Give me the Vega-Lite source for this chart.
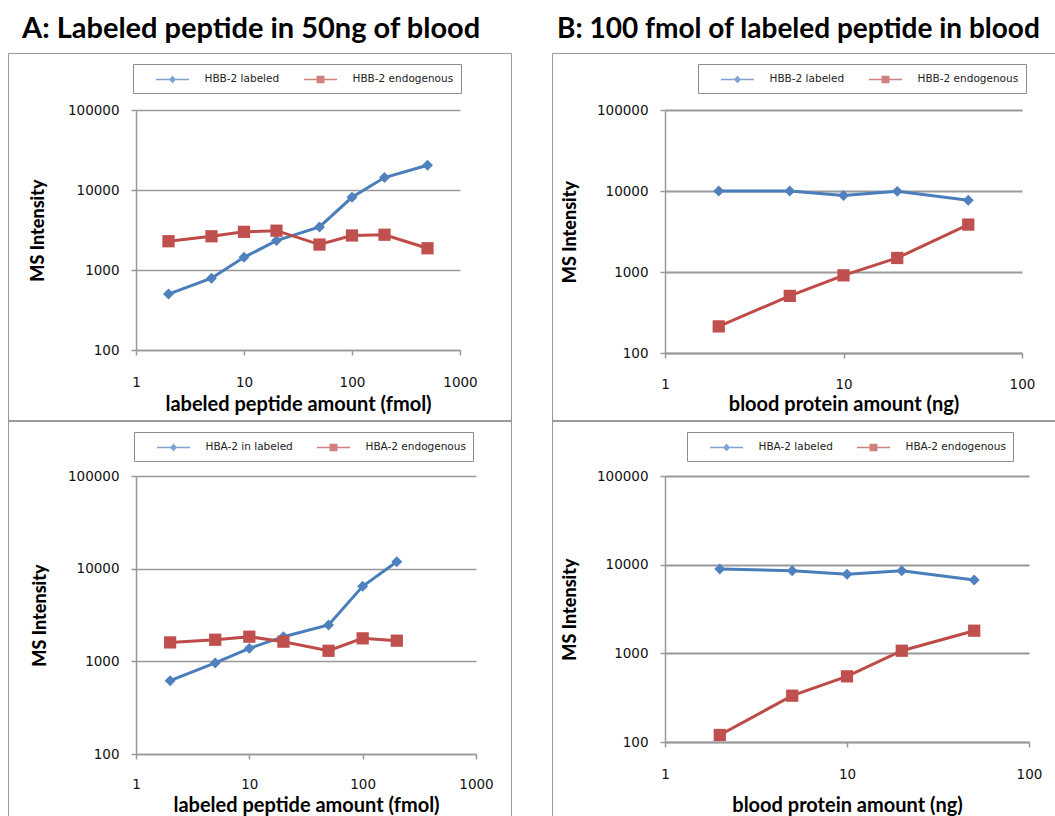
{
  "$schema": "https://vega.github.io/schema/vega-lite/v6.json",
  "autosize": {"type": "none"},
  "padding": {"left": 136, "top": 110, "right": 919, "bottom": 706},
  "background": "white",
  "config": {
    "view": {"stroke": null},
    "font": "DejaVu Sans",
    "axis": {
      "labelFont": "DejaVu Sans", "labelFontSize": 13.5, "labelColor": "#111",
      "titleFont": "Lato", "titleFontWeight": "bold", "titleColor": "#000",
      "domainColor": "#999", "domainWidth": 1.5, "tickColor": "#999", "tickWidth": 1.5, "tickSize": 5,
      "gridColor": "#999", "gridWidth": 1.5, "labelFlush": false, "labelOverlap": false
    },
    "axisY": {"titleFontWeight": 900},
    "legend": {
      "orient": "none", "direction": "horizontal",
      "symbolSize": 196, "symbolStrokeWidth": 1.5, "symbolOffset": 9.5, "labelOffset": 24,
      "labelFont": "DejaVu Sans", "labelFontSize": 10.5, "labelColor": "#222",
      "strokeColor": "#8c8c8c", "padding": 7, "columnPadding": 20,
      "titleOrient": "left", "titlePadding": 15, "titleFontSize": 11
    },
    "title": {"font": "Lato", "fontSize": 29, "fontWeight": "bold", "color": "#000", "anchor": "start", "frame": "group"}
  },
  "columns": 2,
  "spacing": {"row": 123, "column": 189},
  "bounds": "flush",
  "resolve": {"scale": {"color": "independent", "shape": "independent", "strokeDash": "independent"}},
  "concat": [
    {
      "width": 324, "height": 240,
      "title": {"text": "A: Labeled peptide in 50ng of blood", "dx": -114, "offset": 9},
      "data": {"values": [
        {"series": "HBB-2 labeled", "x": 2, "y": 500}, {"series": "HBB-2 labeled", "x": 5, "y": 790},
        {"series": "HBB-2 labeled", "x": 10, "y": 1440}, {"series": "HBB-2 labeled", "x": 20, "y": 2330},
        {"series": "HBB-2 labeled", "x": 50, "y": 3450}, {"series": "HBB-2 labeled", "x": 100, "y": 8100},
        {"series": "HBB-2 labeled", "x": 200, "y": 14300}, {"series": "HBB-2 labeled", "x": 500, "y": 20400},
        {"series": "HBB-2 endogenous", "x": 2, "y": 2290}, {"series": "HBB-2 endogenous", "x": 5, "y": 2640},
        {"series": "HBB-2 endogenous", "x": 10, "y": 3000}, {"series": "HBB-2 endogenous", "x": 20, "y": 3100},
        {"series": "HBB-2 endogenous", "x": 50, "y": 2080}, {"series": "HBB-2 endogenous", "x": 100, "y": 2700},
        {"series": "HBB-2 endogenous", "x": 200, "y": 2760}, {"series": "HBB-2 endogenous", "x": 500, "y": 1870}
      ]},
      "encoding": {
        "x": {"field": "x", "type": "quantitative", "scale": {"type": "log", "domain": [1, 1000], "nice": false},
              "axis": {"values": [1, 10, 100, 1000], "format": "d", "title": "labeled peptide amount (fmol)", "grid": false, "labelPadding": 20, "titlePadding": 6, "titleFontSize": 20}},
        "y": {"field": "y", "type": "quantitative", "scale": {"type": "log", "domain": [100, 100000], "nice": false},
              "axis": {"values": [100, 1000, 10000, 100000], "format": "d", "title": "MS Intensity", "grid": true, "labelPadding": 12, "titlePadding": 20, "titleFontSize": 18}}
      },
      "layer": [
        {"transform": [{"filter": "datum.series == 'HBB-2 labeled'"}],
         "mark": {"type": "line", "color": "#4A7EBB", "strokeWidth": 3, "point": {"shape": "diamond", "size": 120, "filled": true, "color": "#4F81BD", "opacity": 1}}},
        {"transform": [{"filter": "datum.series == 'HBB-2 endogenous'"}],
         "mark": {"type": "line", "color": "#BE4B48", "strokeWidth": 3, "point": {"shape": "square", "size": 150, "filled": true, "color": "#C0504D", "opacity": 1}}},
        {"transform": [{"filter": "datum.x < 0"}],
         "mark": {"type": "point", "filled": false, "strokeWidth": 1.5},
         "encoding": {
           "color": {"field": "series", "type": "nominal", "scale": {"domain": ["HBB-2 labeled", "HBB-2 endogenous"], "range": ["#4A7EBB", "#BE4B48"]}, "legend": {"title": " ", "fillColor": "white", "legendX": -3, "legendY": -46}},
           "shape": {"field": "series", "type": "nominal", "scale": {"domain": ["HBB-2 labeled", "HBB-2 endogenous"], "range": ["M-2.36,0L2.36,0M-0.5,0L0.5,0M-0.36,-0.14L0.36,-0.14M-0.36,0.14L0.36,0.14M-0.21,-0.29L0.21,-0.29M-0.21,0.29L0.21,0.29M-0.07,-0.43L0.07,-0.43M-0.07,0.43L0.07,0.43", "M-2.36,0L2.36,0M-0.57,-0.43L0.57,-0.43M-0.57,-0.29L0.57,-0.29M-0.57,-0.14L0.57,-0.14M-0.57,0.14L0.57,0.14M-0.57,0.29L0.57,0.29M-0.57,0.43L0.57,0.43"]}, "legend": {"title": " ", "fillColor": "white", "legendX": -3, "legendY": -46}}
         }},
        {"transform": [{"filter": "datum.x < 0"}],
         "mark": {"type": "point", "filled": false},
         "encoding": {
           "strokeDash": {"field": "chartArea", "type": "nominal", "scale": {"domain": ["area"], "range": [[1, 0]]},
             "legend": {"title": null, "labelExpr": "''", "labelFontSize": 1, "labelOffset": 0, "symbolOffset": 0, "symbolOpacity": 0, "padding": 0, "strokeColor": "#999",
               "symbolSize": 251502, "symbolType": "M-1,-1L1,-1L1,0.4636L-1,0.4636Z", "legendX": -128, "legendY": -57}}
         }}
      ]
    },
    {
      "width": 357, "height": 243,
      "title": {"text": "B: 100 fmol of labeled peptide in blood", "dx": -108, "offset": 9, "fontSize": 28},
      "data": {"values": [
        {"series": "HBB-2 labeled", "x": 2, "y": 10000}, {"series": "HBB-2 labeled", "x": 5, "y": 10000},
        {"series": "HBB-2 labeled", "x": 10, "y": 8800}, {"series": "HBB-2 labeled", "x": 20, "y": 9900},
        {"series": "HBB-2 labeled", "x": 50, "y": 7700},
        {"series": "HBB-2 endogenous", "x": 2, "y": 213}, {"series": "HBB-2 endogenous", "x": 5, "y": 507},
        {"series": "HBB-2 endogenous", "x": 10, "y": 910}, {"series": "HBB-2 endogenous", "x": 20, "y": 1490},
        {"series": "HBB-2 endogenous", "x": 50, "y": 3850}
      ]},
      "encoding": {
        "x": {"field": "x", "type": "quantitative", "scale": {"type": "log", "domain": [1, 100], "nice": false},
              "axis": {"values": [1, 10, 100], "format": "d", "title": "blood protein amount (ng)", "grid": false, "labelPadding": 19, "titlePadding": 4, "titleFontSize": 20}},
        "y": {"field": "y", "type": "quantitative", "scale": {"type": "log", "domain": [100, 100000], "nice": false},
              "axis": {"values": [100, 1000, 10000, 100000], "format": "d", "title": "MS Intensity", "grid": true, "gridWidth": 2, "labelPadding": 12, "titlePadding": 17, "titleFontSize": 18}}
      },
      "layer": [
        {"transform": [{"filter": "datum.series == 'HBB-2 labeled'"}],
         "mark": {"type": "line", "color": "#4A7EBB", "strokeWidth": 3, "point": {"shape": "diamond", "size": 120, "filled": true, "color": "#4F81BD", "opacity": 1}}},
        {"transform": [{"filter": "datum.series == 'HBB-2 endogenous'"}],
         "mark": {"type": "line", "color": "#BE4B48", "strokeWidth": 3, "point": {"shape": "square", "size": 150, "filled": true, "color": "#C0504D", "opacity": 1}}},
        {"transform": [{"filter": "datum.x < 0"}],
         "mark": {"type": "point", "filled": false, "strokeWidth": 1.5},
         "encoding": {
           "color": {"field": "series", "type": "nominal", "scale": {"domain": ["HBB-2 labeled", "HBB-2 endogenous"], "range": ["#4A7EBB", "#BE4B48"]}, "legend": {"title": " ", "fillColor": "white", "legendX": 33, "legendY": -46}},
           "shape": {"field": "series", "type": "nominal", "scale": {"domain": ["HBB-2 labeled", "HBB-2 endogenous"], "range": ["M-2.36,0L2.36,0M-0.5,0L0.5,0M-0.36,-0.14L0.36,-0.14M-0.36,0.14L0.36,0.14M-0.21,-0.29L0.21,-0.29M-0.21,0.29L0.21,0.29M-0.07,-0.43L0.07,-0.43M-0.07,0.43L0.07,0.43", "M-2.36,0L2.36,0M-0.57,-0.43L0.57,-0.43M-0.57,-0.29L0.57,-0.29M-0.57,-0.14L0.57,-0.14M-0.57,0.14L0.57,0.14M-0.57,0.29L0.57,0.29M-0.57,0.43L0.57,0.43"]}, "legend": {"title": " ", "fillColor": "white", "legendX": 33, "legendY": -46}}
         }},
        {"transform": [{"filter": "datum.x < 0"}],
         "mark": {"type": "point", "filled": false},
         "encoding": {
           "strokeDash": {"field": "chartArea", "type": "nominal", "scale": {"domain": ["area"], "range": [[1, 0]]},
             "legend": {"title": null, "labelExpr": "''", "labelFontSize": 1, "labelOffset": 0, "symbolOffset": 0, "symbolOpacity": 0, "padding": 0, "strokeColor": "#999",
               "symbolSize": 313600, "symbolType": "M-1,-1L1,-1L1,0.3107L-1,0.3107Z", "legendX": -113, "legendY": -57}}
         }}
      ]
    },
    {
      "width": 340, "height": 278,
      "data": {"values": [
        {"series": "HBA-2 in labeled", "x": 2, "y": 618}, {"series": "HBA-2 in labeled", "x": 5, "y": 960},
        {"series": "HBA-2 in labeled", "x": 10, "y": 1380}, {"series": "HBA-2 in labeled", "x": 20, "y": 1845},
        {"series": "HBA-2 in labeled", "x": 50, "y": 2470}, {"series": "HBA-2 in labeled", "x": 100, "y": 6450},
        {"series": "HBA-2 in labeled", "x": 200, "y": 11900},
        {"series": "HBA-2 endogenous", "x": 2, "y": 1600}, {"series": "HBA-2 endogenous", "x": 5, "y": 1710},
        {"series": "HBA-2 endogenous", "x": 10, "y": 1845}, {"series": "HBA-2 endogenous", "x": 20, "y": 1630},
        {"series": "HBA-2 endogenous", "x": 50, "y": 1300}, {"series": "HBA-2 endogenous", "x": 100, "y": 1770},
        {"series": "HBA-2 endogenous", "x": 200, "y": 1670}
      ]},
      "encoding": {
        "x": {"field": "x", "type": "quantitative", "scale": {"type": "log", "domain": [1, 1000], "nice": false},
              "axis": {"values": [1, 10, 100, 1000], "format": "d", "title": "labeled peptide amount (fmol)", "grid": false, "labelPadding": 18, "titlePadding": 5, "titleFontSize": 20}},
        "y": {"field": "y", "type": "quantitative", "scale": {"type": "log", "domain": [100, 100000], "nice": false},
              "axis": {"values": [100, 1000, 10000, 100000], "format": "d", "title": "MS Intensity", "grid": true, "labelPadding": 12, "titlePadding": 18, "titleFontSize": 18}}
      },
      "layer": [
        {"transform": [{"filter": "datum.series == 'HBA-2 in labeled'"}],
         "mark": {"type": "line", "color": "#4A7EBB", "strokeWidth": 3, "point": {"shape": "diamond", "size": 120, "filled": true, "color": "#4F81BD", "opacity": 1}}},
        {"transform": [{"filter": "datum.series == 'HBA-2 endogenous'"}],
         "mark": {"type": "line", "color": "#BE4B48", "strokeWidth": 3, "point": {"shape": "square", "size": 150, "filled": true, "color": "#C0504D", "opacity": 1}}},
        {"transform": [{"filter": "datum.x < 0"}],
         "mark": {"type": "point", "filled": false, "strokeWidth": 1.5},
         "encoding": {
           "color": {"field": "series", "type": "nominal", "scale": {"domain": ["HBA-2 in labeled", "HBA-2 endogenous"], "range": ["#4A7EBB", "#BE4B48"]}, "legend": {"title": " ", "fillColor": "white", "legendX": -2, "legendY": -44}},
           "shape": {"field": "series", "type": "nominal", "scale": {"domain": ["HBA-2 in labeled", "HBA-2 endogenous"], "range": ["M-2.36,0L2.36,0M-0.5,0L0.5,0M-0.36,-0.14L0.36,-0.14M-0.36,0.14L0.36,0.14M-0.21,-0.29L0.21,-0.29M-0.21,0.29L0.21,0.29M-0.07,-0.43L0.07,-0.43M-0.07,0.43L0.07,0.43", "M-2.36,0L2.36,0M-0.57,-0.43L0.57,-0.43M-0.57,-0.29L0.57,-0.29M-0.57,-0.14L0.57,-0.14M-0.57,0.14L0.57,0.14M-0.57,0.29L0.57,0.29M-0.57,0.43L0.57,0.43"]}, "legend": {"title": " ", "fillColor": "white", "legendX": -2, "legendY": -44}}
         }},
        {"transform": [{"filter": "datum.x < 0"}],
         "mark": {"type": "point", "filled": false},
         "encoding": {
           "strokeDash": {"field": "chartArea", "type": "nominal", "scale": {"domain": ["area"], "range": [[1, 0]]},
             "legend": {"title": null, "labelExpr": "''", "labelFontSize": 1, "labelOffset": 0, "symbolOffset": 0, "symbolOpacity": 0, "padding": 0, "strokeColor": "#999",
               "symbolSize": 251502, "symbolType": "M-1,-1L1,-1L1,0.6749L-1,0.6749Z", "legendX": -128, "legendY": -56}}
         }}
      ]
    },
    {
      "width": 364, "height": 266,
      "data": {"values": [
        {"series": "HBA-2 labeled", "x": 2, "y": 8940}, {"series": "HBA-2 labeled", "x": 5, "y": 8550},
        {"series": "HBA-2 labeled", "x": 10, "y": 7780}, {"series": "HBA-2 labeled", "x": 20, "y": 8550},
        {"series": "HBA-2 labeled", "x": 50, "y": 6710},
        {"series": "HBA-2 endogenous", "x": 2, "y": 120}, {"series": "HBA-2 endogenous", "x": 5, "y": 333},
        {"series": "HBA-2 endogenous", "x": 10, "y": 550}, {"series": "HBA-2 endogenous", "x": 20, "y": 1070},
        {"series": "HBA-2 endogenous", "x": 50, "y": 1800}
      ]},
      "encoding": {
        "x": {"field": "x", "type": "quantitative", "scale": {"type": "log", "domain": [1, 100], "nice": false},
              "axis": {"values": [1, 10, 100], "format": "d", "title": "blood protein amount (ng)", "grid": false, "labelPadding": 20, "titlePadding": 15, "titleFontSize": 20}},
        "y": {"field": "y", "type": "quantitative", "scale": {"type": "log", "domain": [100, 100000], "nice": false},
              "axis": {"values": [100, 1000, 10000, 100000], "format": "d", "title": "MS Intensity", "grid": true, "gridWidth": 2, "labelPadding": 12, "titlePadding": 17, "titleFontSize": 18}}
      },
      "layer": [
        {"transform": [{"filter": "datum.series == 'HBA-2 labeled'"}],
         "mark": {"type": "line", "color": "#4A7EBB", "strokeWidth": 3, "point": {"shape": "diamond", "size": 120, "filled": true, "color": "#4F81BD", "opacity": 1}}},
        {"transform": [{"filter": "datum.series == 'HBA-2 endogenous'"}],
         "mark": {"type": "line", "color": "#BE4B48", "strokeWidth": 3, "point": {"shape": "square", "size": 150, "filled": true, "color": "#C0504D", "opacity": 1}}},
        {"transform": [{"filter": "datum.x < 0"}],
         "mark": {"type": "point", "filled": false, "strokeWidth": 1.5},
         "encoding": {
           "color": {"field": "series", "type": "nominal", "scale": {"domain": ["HBA-2 labeled", "HBA-2 endogenous"], "range": ["#4A7EBB", "#BE4B48"]}, "legend": {"title": " ", "fillColor": "white", "legendX": 22, "legendY": -44}},
           "shape": {"field": "series", "type": "nominal", "scale": {"domain": ["HBA-2 labeled", "HBA-2 endogenous"], "range": ["M-2.36,0L2.36,0M-0.5,0L0.5,0M-0.36,-0.14L0.36,-0.14M-0.36,0.14L0.36,0.14M-0.21,-0.29L0.21,-0.29M-0.21,0.29L0.21,0.29M-0.07,-0.43L0.07,-0.43M-0.07,0.43L0.07,0.43", "M-2.36,0L2.36,0M-0.57,-0.43L0.57,-0.43M-0.57,-0.29L0.57,-0.29M-0.57,-0.14L0.57,-0.14M-0.57,0.14L0.57,0.14M-0.57,0.29L0.57,0.29M-0.57,0.43L0.57,0.43"]}, "legend": {"title": " ", "fillColor": "white", "legendX": 22, "legendY": -44}}
         }},
        {"transform": [{"filter": "datum.x < 0"}],
         "mark": {"type": "point", "filled": false},
         "encoding": {
           "strokeDash": {"field": "chartArea", "type": "nominal", "scale": {"domain": ["area"], "range": [[1, 0]]},
             "legend": {"title": null, "labelExpr": "''", "labelFontSize": 1, "labelOffset": 0, "symbolOffset": 0, "symbolOpacity": 0, "padding": 0, "strokeColor": "#999",
               "symbolSize": 313600, "symbolType": "M-1,-1L1,-1L1,0.5L-1,0.5Z", "legendX": -113, "legendY": -56}}
         }}
      ]
    }
  ]
}
